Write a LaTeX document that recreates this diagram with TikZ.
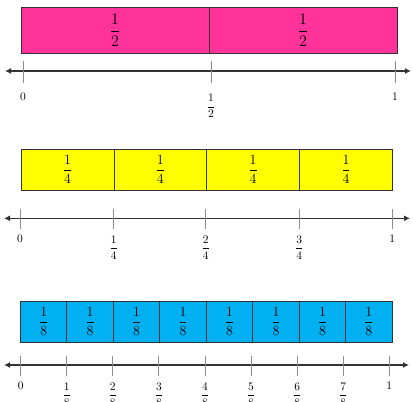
\RequirePackage{fix-cm}
\documentclass[tikz,border=0pt]{standalone}
\usepackage{amsmath}
\usetikzlibrary{arrows.meta}
\definecolor{pinkc}{RGB}{255,51,153}
\definecolor{yellc}{RGB}{255,255,0}
\definecolor{bluec}{RGB}{0,176,240}
\begin{document}
\begin{tikzpicture}[x=1pt,y=-1pt,
  cell/.style={draw=black!80, line width=0.9pt, inner sep=0pt, anchor=north west},
  axis/.style={draw=black!80, line width=1.2pt, {Latex[length=6pt,width=6pt]}-{Latex[length=6pt,width=6pt]}},
  tick/.style={draw=black!45, line width=0.9pt},
  lab/.style={inner sep=0pt, font=\fontsize{11.5}{13}\selectfont},
  big/.style={font=\fontsize{16}{19}\selectfont},
  mid/.style={font=\fontsize{14}{16}\selectfont}]
\useasboundingbox (0,0) rectangle (413,402);

% ---------- halves ----------
\foreach \i in {0,1}
  \node[cell, big, fill=pinkc, minimum width=188pt, minimum height=46pt] (h\i) at ({20.7+188*\i},6.7) {$\dfrac{1}{2}$};
\coordinate (A1l) at (5,71);
\coordinate (A1r) at (411,71);
\draw[axis] (A1l) -- (A1r);
\foreach \x/\n in {23/0,211/1,395/2}{
  \coordinate (ta\n) at (\x,60.7);
  \coordinate (tb\n) at (\x,83.3);
  \draw[tick] (ta\n) -- (tb\n);
}
\node[lab] (l1z) at (23,97) {$0$};
\node[lab] (l1h) at (211,106) {$\dfrac{1}{2}$};
\node[lab] (l1o) at (395,97) {$1$};

% ---------- quarters ----------
\foreach \i in {0,...,3}
  \node[cell, mid, fill=yellc, minimum width=92.8pt, minimum height=41pt] (q\i) at ({20.7+92.8*\i},148.7) {$\dfrac{1}{4}$};
\coordinate (A2l) at (4,218.3);
\coordinate (A2r) at (410,218.3);
\draw[axis] (A2l) -- (A2r);
\foreach \x/\n in {20/0,113.7/1,205.7/2,299.3/3,392.3/4}{
  \coordinate (qa\n) at (\x,209);
  \coordinate (qb\n) at (\x,229);
  \draw[tick] (qa\n) -- (qb\n);
}
\node[lab] (l2z) at (20,238.3) {$0$};
\foreach \x/\n in {113.7/1,205.7/2,299.3/3}
  \node[lab] (l2f\n) at (\x,247.5) {$\dfrac{\n}{4}$};
\node[lab] (l2o) at (392.3,238.3) {$1$};

% ---------- eighths ----------
\foreach \i in {0,...,7}
  \node[cell, mid, fill=bluec, minimum width=46.46pt, minimum height=41pt] (e\i) at ({20+46.46*\i},300.7) {$\dfrac{1}{8}$};
\coordinate (A3l) at (4,365);
\coordinate (A3r) at (409,365);
\draw[axis] (A3l) -- (A3r);
\foreach \n in {0,...,8}{
  \coordinate (ea\n) at ({20.7+46.08*\n},356);
  \coordinate (eb\n) at ({20.7+46.08*\n},376);
  \draw[tick] (ea\n) -- (eb\n);
}
\node[lab] (l3z) at (20.7,386) {$0$};
\foreach \n in {1,...,7}
  \node[lab] (l3f\n) at ({20.7+46.08*\n},394.5) {$\dfrac{\n}{8}$};
\node[lab] (l3o) at (389.3,386) {$1$};
\end{tikzpicture}
\end{document}
